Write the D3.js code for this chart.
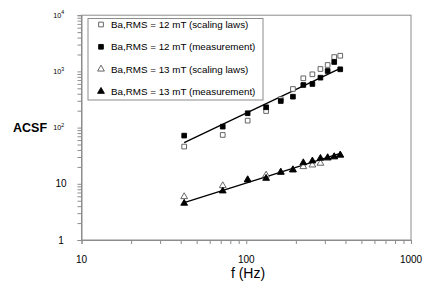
<!DOCTYPE html>
<html>
<head>
<meta charset="utf-8">
<script src="https://cdn.jsdelivr.net/npm/d3@7"></script>
<style>
  body { margin: 0; background: #fff; }
  text { font-family: Arial, "Liberation Sans", sans-serif; }
</style>
</head>
<body>
<script>
// frequencies (Hz)
const freq = [42, 72, 102, 132, 162, 192, 222, 252, 282, 312, 342, 372];

// ACSF values
const sq12Scaling = [46, 74, 133, 197, 320, 486, 754, 888, 1104, 1300, 1800, 1900];
const sq12Measure = [72, 104, 180, 230, 297, 355, 573, 597, 773, 1016, 1469, 1090];
const tri13Scaling = [5.9, 9.25, 11.9, 14.3, 16.2, 17.9, 20.2, 21.6, 23.2, 28.6, 30, 32];
const tri13Measure = [4.5, 7.45, 11.7, 12.5, 16.0, 17.6, 23.7, 25.5, 28.4, 29.2, 30.4, 32.5];

const legendLabels = [
  'Ba,RMS = 12 mT (scaling laws)',
  'Ba,RMS = 12 mT (measurement)',
  'Ba,RMS = 13 mT (scaling laws)',
  'Ba,RMS = 13 mT (measurement)'
];
const xTickLabels = ['10', '100', '1000'];
const yTickValues = [1, 10, 100, 1000, 10000];

const width = 445, height = 300;
const x = d3.scaleLog().domain([10, 1000]).range([81.5, 411]);
const y = d3.scaleLog().domain([1, 10000]).range([240, 15.2]);

const svg = d3.select('body').append('svg')
  .attr('width', width)
  .attr('height', height);

const gray = '#8c8c8c';

// plot frame
svg.append('rect')
  .attr('x', x(10)).attr('y', y(10000))
  .attr('width', x(1000) - x(10)).attr('height', y(1) - y(10000))
  .attr('fill', 'none').attr('stroke', gray).attr('stroke-width', 1);

// minor + major ticks
const logTicks = (lo, hi) => {
  const t = [];
  for (let d = lo; d < hi; d *= 10) {
    for (let k = 1; k < 10; k++) t.push(d * k);
  }
  t.push(hi);
  return t;
};

const yAxis = svg.append('g')
  .attr('transform', `translate(${x(10)},0)`)
  .call(d3.axisLeft(y).tickValues(logTicks(1, 10000)).tickSize(4).tickFormat(''));
const xAxis = svg.append('g')
  .attr('transform', `translate(0,${y(1)})`)
  .call(d3.axisBottom(x).tickValues(logTicks(10, 1000)).tickSize(4).tickFormat(''));
[yAxis, xAxis].forEach(a => {
  a.selectAll('path').attr('stroke', gray);
  a.selectAll('line').attr('stroke', gray);
});

// y tick labels (powers of ten as superscripts)
yTickValues.forEach(v => {
  const p = Math.round(Math.log10(v));
  if (p < 2) {
    svg.append('text')
      .attr('x', 61).attr('y', y(v) + 3.5)
      .attr('text-anchor', 'middle')
      .attr('font-size', 10)
      .text(String(v));
  } else {
    const t = svg.append('text')
      .attr('x', 53.3).attr('y', y(v) + 2.4)
      .attr('font-size', 7.2);
    t.append('tspan').text('10');
    t.append('tspan').attr('dy', -3.2).attr('font-size', 5.2).text(String(p));
  }
});

// x tick labels
xTickLabels.forEach(s => {
  svg.append('text')
    .attr('x', x(+s)).attr('y', 262.5)
    .attr('text-anchor', 'middle')
    .attr('font-size', 10)
    .text(s);
});

// axis titles
svg.append('text')
  .attr('x', 13).attr('y', 131.5)
  .attr('font-size', 12.5).attr('font-weight', 'bold')
  .text('ACSF');
svg.append('text')
  .attr('x', 248).attr('y', 277.5)
  .attr('text-anchor', 'middle')
  .attr('font-size', 14)
  .text('f (Hz)');

// power-law trend lines fitted in log-log space
function fitLine(xs, ys) {
  const lx = xs.map(Math.log10), ly = ys.map(Math.log10);
  const mx = d3.mean(lx), my = d3.mean(ly);
  const b = d3.sum(lx, (v, i) => (v - mx) * (ly[i] - my)) / d3.sum(lx, v => (v - mx) ** 2);
  const a = my - b * mx;
  const xe = d3.extent(xs);
  return xe.map(v => [v, Math.pow(10, a + b * Math.log10(v))]);
}
const line = d3.line().x(d => x(d[0])).y(d => y(d[1]));
[sq12Measure, tri13Measure].forEach(vals => {
  svg.append('path')
    .datum(fitLine(freq, vals))
    .attr('d', line)
    .attr('fill', 'none')
    .attr('stroke', '#000')
    .attr('stroke-width', 1.3);
});

// markers
const sqSym = d3.symbol().type(d3.symbolSquare).size(22);
const triSym = d3.symbol().type(d3.symbolTriangle).size(20);
const series = [
  { vals: sq12Scaling, sym: sqSym, fill: '#fff', stroke: '#555' },
  { vals: sq12Measure, sym: sqSym, fill: '#000', stroke: '#000' },
  { vals: tri13Scaling, sym: triSym, fill: '#fff', stroke: '#555' },
  { vals: tri13Measure, sym: triSym, fill: '#000', stroke: '#000' }
];
series.forEach(s => {
  svg.append('g').selectAll('path')
    .data(freq)
    .join('path')
    .attr('d', s.sym)
    .attr('transform', (f, i) => `translate(${x(f)},${y(s.vals[i])})`)
    .attr('fill', s.fill)
    .attr('stroke', s.stroke)
    .attr('stroke-width', 0.9);
});

// legend
const lg = svg.append('g');
lg.append('rect')
  .attr('x', 88).attr('y', 18.5).attr('width', 175).attr('height', 81.5)
  .attr('fill', '#fff').attr('stroke', gray);
series.forEach((s, i) => {
  const ly = 24.5 + i * 22.3;
  lg.append('path')
    .attr('d', s.sym)
    .attr('transform', `translate(101,${ly})`)
    .attr('fill', s.fill).attr('stroke', s.stroke).attr('stroke-width', 0.9);
  lg.append('text')
    .attr('x', 111).attr('y', ly + 3.5)
    .attr('font-size', 9.8)
    .text(legendLabels[i]);
});
</script>
</body>
</html>
